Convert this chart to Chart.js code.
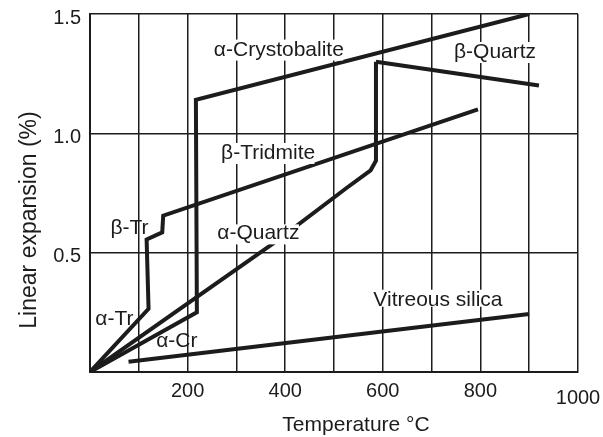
<!DOCTYPE html>
<html>
<head>
<meta charset="utf-8">
<script src="https://cdn.jsdelivr.net/npm/chart.js@4.4.1/dist/chart.umd.min.js"></script>
<style>
  html, body { margin: 0; padding: 0; background: #fff; }
  #wrap { width: 603px; height: 437px; }
</style>
</head>
<body>
<div id="wrap"><canvas id="chart"></canvas></div>
<script>
// temperature (°C) / linear expansion (%) pairs
const crystobaliteT = [0, 219, 217, 900];
const crystobaliteE = [0, 0.25, 1.14, 1.5];
const tridymiteT = [0, 120, 116, 148, 150, 795];
const tridymiteE = [0, 0.265, 0.555, 0.585, 0.655, 1.10];
const alphaQuartzT = [0, 380, 525, 575, 586, 586];
const alphaQuartzE = [0, 0.545, 0.77, 0.845, 0.885, 1.30];
const betaQuartzT = [586, 920];
const betaQuartzE = [1.30, 1.20];
const vitreousT = [79, 900];
const vitreousE = [0.043, 0.243];

// curve names and where they sit (data coords)
const labelText = ["α-Crystobalite", "β-Quartz", "β-Tridmite", "β-Tr", "α-Quartz", "α-Tr", "α-Cr", "Vitreous silica"];
const labelT = [387, 830, 365, 81, 345, 50, 178, 713];
const labelE = [1.35, 1.34, 0.917, 0.603, 0.58, 0.222, 0.13, 0.302];

const xTicks = [200, 400, 600, 800, 1000];
const yTicks = [0.5, 1.0, 1.5];

const INK = "#1c1c1c";
const FONT = '"Liberation Sans", Arial, sans-serif';
// the small phase tags sit tight against the curves, no white patch there
const noPatch = new Set(["β-Tr", "α-Tr", "α-Cr"]);

function pts(xs, ys) {
  return xs.map((v, i) => ({ x: v, y: ys[i] }));
}

function curve(xs, ys) {
  return {
    data: pts(xs, ys),
    borderColor: INK,
    borderWidth: 4,
    borderJoinStyle: "miter",
    pointRadius: 0,
    fill: false,
    tension: 0,
  };
}

// names sit on a white patch that hides grid and curves behind them
const curveLabels = {
  id: "curveLabels",
  afterDatasetsDraw(chart) {
    const { ctx, chartArea } = chart;
    const x = chart.scales.x;
    const y = chart.scales.y;
    ctx.save();
    ctx.font = `21px ${FONT}`;
    ctx.textAlign = "center";
    ctx.textBaseline = "middle";
    labelText.forEach((t, i) => {
      const px = x.getPixelForValue(labelT[i]);
      const py = y.getPixelForValue(labelE[i]);
      if (!noPatch.has(t)) {
        const m = ctx.measureText(t);
        ctx.fillStyle = "#fff";
        ctx.fillRect(
          px - m.actualBoundingBoxLeft,
          py - m.actualBoundingBoxAscent - 1,
          m.actualBoundingBoxLeft + m.actualBoundingBoxRight,
          m.actualBoundingBoxAscent + m.actualBoundingBoxDescent + 2
        );
      }
      ctx.fillStyle = INK;
      ctx.fillText(t, px, py);
    });
    // axis titles, a bit off-centre like the original
    ctx.fillStyle = INK;
    ctx.fillText("Temperature °C", chartArea.left + 266, chartArea.bottom + 53);
    ctx.font = `23px ${FONT}`;
    ctx.translate(30, chartArea.top + 206);
    ctx.rotate(-Math.PI / 2);
    ctx.fillText("Linear expansion (%)", 0, 0);
    ctx.restore();
  },
};

function noPad(s) {
  s.paddingTop = 0;
  s.paddingBottom = 0;
  s.paddingLeft = 0;
  s.paddingRight = 0;
}

new Chart(document.getElementById("chart"), {
  type: "line",
  data: {
    datasets: [
      curve(crystobaliteT, crystobaliteE),
      curve(tridymiteT, tridymiteE),
      curve(alphaQuartzT, alphaQuartzE),
      curve(betaQuartzT, betaQuartzE),
      curve(vitreousT, vitreousE),
    ],
  },
  options: {
    responsive: true,
    maintainAspectRatio: false,
    animation: false,
    layout: { padding: { top: 14, right: 25, bottom: 0, left: 0 } },
    plugins: { legend: { display: false }, tooltip: { enabled: false } },
    scales: {
      x: {
        type: "linear",
        min: 0,
        max: 1000,
        afterFit: (s) => { s.height = 65; noPad(s); },
        ticks: {
          stepSize: 100,
          padding: 7,
          color: INK,
          autoSkip: false,
          maxRotation: 0,
          font: (c) => ({
            family: FONT,
            size: 20,
            lineHeight: c.tick && c.tick.value === 1000 ? 1.9 : 1.2,
          }),
          callback: (v) => (xTicks.includes(v) ? String(v) : ""),
        },
        grid: { color: INK, lineWidth: 1.5, drawTicks: false },
        border: { color: INK, width: 2 },
      },
      y: {
        min: 0,
        max: 1.5,
        afterFit: (s) => { s.width = 90; noPad(s); },
        ticks: {
          stepSize: 0.5,
          padding: 9,
          labelOffset: 4,
          color: INK,
          font: { family: FONT, size: 20 },
          callback: (v) => (yTicks.includes(v) ? v.toFixed(1) : ""),
        },
        grid: { color: INK, lineWidth: 1.5, drawTicks: false },
        border: { color: INK, width: 2 },
      },
    },
  },
  plugins: [curveLabels],
});
</script>
</body>
</html>
